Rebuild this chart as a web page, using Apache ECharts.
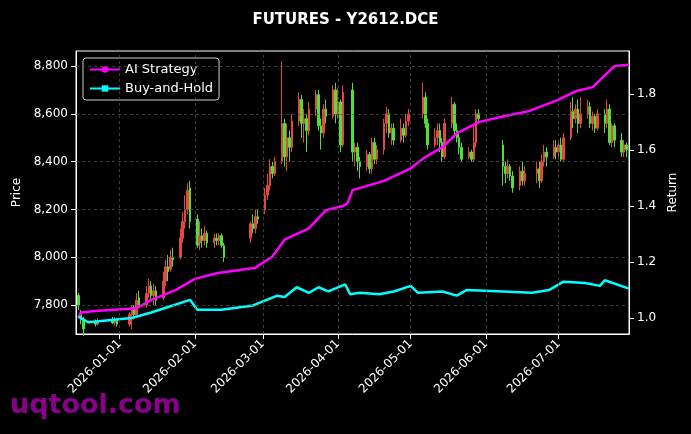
<!DOCTYPE html>
<html><head><meta charset="utf-8">
<script src="https://cdn.jsdelivr.net/npm/echarts@6/dist/echarts.min.js"></script>
<style>html,body{margin:0;background:#000}#c{width:691px;height:434px}</style>
</head><body><div id="c"></div>
<script>
// candles: [date, open, close, low, high]
const candles = [
['2025-12-15',7840,7800,7780,7850],['2025-12-16',7760,7740,7720,7780],['2025-12-17',7740,7700,7670,7750],
['2025-12-22',7730,7720,7710,7740],['2025-12-23',7720,7730,7715,7745],['2025-12-29',7740,7725,7720,7750],
['2025-12-30',7725,7735,7715,7750],['2025-12-31',7735,7720,7710,7745],
['2026-01-05',7720,7760,7710,7770],['2026-01-06',7760,7790,7700,7800],['2026-01-07',7790,7760,7740,7800],
['2026-01-08',7760,7820,7750,7850],['2026-01-09',7830,7800,7790,7860],['2026-01-12',7800,7850,7790,7880],
['2026-01-13',7850,7880,7830,7910],['2026-01-14',7880,7840,7820,7900],['2026-01-15',7840,7860,7800,7890],
['2026-01-16',7860,7820,7800,7880],['2026-01-19',7830,7900,7820,7940],['2026-01-20',7900,7960,7880,7990],
['2026-01-21',7960,7940,7900,8010],['2026-01-22',7950,8000,7940,8030],['2026-01-23',8000,7990,7960,8040],
['2026-01-26',8000,8080,7990,8120],['2026-01-27',8080,8150,8060,8190],['2026-01-28',8150,8200,8120,8260],
['2026-01-29',8200,8280,8180,8310],['2026-01-30',8290,8150,8120,8320],['2026-02-02',8160,8050,8040,8180],
['2026-02-03',8060,8090,8030,8150],['2026-02-04',8090,8070,8040,8120],['2026-02-05',8070,8100,8050,8130],
['2026-02-06',8100,8060,8040,8110],['2026-02-09',8060,8080,8040,8100],['2026-02-10',8080,8070,8050,8100],
['2026-02-11',8070,8090,8050,8100],['2026-02-12',8090,8050,8040,8100],['2026-02-13',8050,8000,7980,8060],
['2026-02-24',8080,8140,8060,8150],['2026-02-25',8140,8120,8100,8180],['2026-02-26',8120,8170,8100,8200],
['2026-02-27',8170,8160,8140,8200],['2026-03-02',8200,8260,8180,8290],['2026-03-03',8260,8300,8240,8350],
['2026-03-04',8300,8380,8280,8410],['2026-03-05',8380,8350,8330,8400],['2026-03-06',8350,8400,8340,8420],
['2026-03-09',8400,8560,8390,8820],['2026-03-10',8560,8420,8380,8580],['2026-03-11',8420,8500,8360,8560],
['2026-03-12',8500,8460,8400,8530],['2026-03-13',8460,8570,8440,8600],['2026-03-16',8570,8660,8550,8690],
['2026-03-17',8660,8560,8500,8680],['2026-03-18',8560,8580,8480,8620],['2026-03-19',8580,8530,8440,8600],
['2026-03-20',8530,8620,8510,8650],['2026-03-23',8620,8680,8590,8700],['2026-03-24',8680,8550,8530,8700],
['2026-03-25',8550,8520,8450,8580],['2026-03-26',8520,8620,8500,8640],['2026-03-27',8620,8590,8560,8660],
['2026-03-30',8590,8700,8580,8720],['2026-03-31',8700,8600,8560,8730],['2026-04-01',8600,8650,8580,8710],
['2026-04-02',8650,8470,8440,8660],['2026-04-03',8470,8690,8460,8720],['2026-04-07',8700,8440,8400,8730],
['2026-04-08',8440,8460,8380,8480],['2026-04-09',8460,8400,8360,8480],['2026-04-10',8400,8380,8330,8420],
['2026-04-13',8380,8430,8360,8450],['2026-04-14',8430,8370,8350,8440],['2026-04-15',8370,8480,8350,8500],
['2026-04-16',8480,8410,8390,8500],['2026-04-17',8410,8450,8390,8470],['2026-04-20',8450,8560,8430,8580],
['2026-04-21',8560,8600,8520,8630],['2026-04-22',8600,8520,8500,8620],['2026-04-23',8520,8540,8470,8560],
['2026-04-24',8540,8490,8470,8560],['2026-04-27',8490,8540,8480,8580],['2026-04-28',8540,8510,8480,8560],
['2026-04-29',8510,8570,8500,8600],['2026-04-30',8570,8600,8550,8620],['2026-05-06',8600,8670,8580,8730],
['2026-05-07',8670,8560,8540,8690],['2026-05-08',8560,8470,8450,8580],['2026-05-11',8470,8500,8460,8540],
['2026-05-12',8500,8530,8470,8560],['2026-05-13',8530,8480,8440,8560],['2026-05-14',8480,8420,8400,8500],
['2026-05-15',8420,8560,8410,8580],['2026-05-18',8560,8640,8540,8670],['2026-05-19',8640,8530,8500,8650],
['2026-05-20',8530,8500,8480,8560],['2026-05-21',8500,8460,8430,8520],['2026-05-22',8460,8410,8400,8480],
['2026-05-25',8420,8440,8410,8460],['2026-05-26',8440,8410,8400,8450],['2026-05-27',8410,8480,8400,8560],
['2026-05-28',8480,8600,8460,8620],['2026-05-29',8600,8580,8560,8620],['2026-06-08',8470,8380,8300,8490],
['2026-06-09',8380,8350,8310,8400],['2026-06-10',8350,8380,8330,8410],['2026-06-11',8380,8340,8320,8390],
['2026-06-12',8340,8290,8270,8360],['2026-06-15',8300,8360,8280,8380],['2026-06-16',8360,8320,8300,8400],
['2026-06-17',8320,8350,8300,8380],['2026-06-22',8350,8370,8310,8400],['2026-06-23',8370,8320,8290,8400],
['2026-06-24',8320,8400,8310,8430],['2026-06-25',8400,8440,8380,8470],['2026-06-26',8440,8420,8380,8460],
['2026-06-29',8420,8460,8410,8490],['2026-06-30',8460,8440,8410,8490],['2026-07-01',8440,8470,8420,8480],
['2026-07-02',8470,8410,8400,8500],['2026-07-03',8410,8500,8400,8520],['2026-07-06',8500,8610,8490,8650],
['2026-07-07',8610,8580,8540,8670],['2026-07-08',8580,8620,8560,8640],['2026-07-09',8620,8560,8520,8660],
['2026-07-10',8560,8600,8540,8670],['2026-07-13',8600,8630,8580,8660],['2026-07-14',8630,8560,8540,8650],
['2026-07-15',8560,8590,8530,8610],['2026-07-16',8590,8540,8520,8600],['2026-07-17',8540,8600,8530,8620],
['2026-07-20',8600,8560,8520,8620],['2026-07-21',8560,8620,8540,8660],['2026-07-22',8620,8480,8470,8640],
['2026-07-23',8480,8550,8460,8560],['2026-07-24',8550,8490,8460,8560],['2026-07-27',8490,8440,8420,8520],
['2026-07-28',8440,8470,8420,8490],['2026-07-29',8470,8450,8420,8480]
];
const aiStrategy = [
['2025-12-15',1.0],['2025-12-16',1.02],['2025-12-22',1.025],['2026-01-08',1.035],['2026-01-14',1.065],
['2026-01-24',1.10],['2026-02-01',1.14],['2026-02-10',1.16],['2026-02-26',1.18],['2026-03-05',1.22],
['2026-03-10',1.28],['2026-03-20',1.32],['2026-03-27',1.385],['2026-04-03',1.40],['2026-04-05',1.41],
['2026-04-07',1.457],['2026-04-20',1.49],['2026-05-01',1.535],['2026-05-07',1.575],['2026-05-14',1.61],
['2026-05-20',1.66],['2026-05-29',1.70],['2026-06-08',1.72],['2026-06-19',1.74],['2026-07-01',1.78],
['2026-07-08',1.81],['2026-07-15',1.825],['2026-07-24',1.90],['2026-07-30',1.905]
];
const buyHold = [
['2025-12-15',1.005],['2025-12-19',0.985],['2026-01-06',1.0],['2026-01-14',1.02],['2026-01-30',1.065],
['2026-02-02',1.03],['2026-02-12',1.03],['2026-02-25',1.045],['2026-03-07',1.08],['2026-03-10',1.075],
['2026-03-15',1.11],['2026-03-20',1.09],['2026-03-24',1.11],['2026-03-28',1.095],['2026-04-04',1.12],
['2026-04-06',1.085],['2026-04-10',1.09],['2026-04-18',1.085],['2026-04-24',1.095],['2026-05-01',1.115],
['2026-05-04',1.09],['2026-05-14',1.095],['2026-05-20',1.08],['2026-05-24',1.10],['2026-06-08',1.095],
['2026-06-20',1.09],['2026-06-27',1.10],['2026-07-03',1.13],['2026-07-12',1.125],['2026-07-18',1.115],
['2026-07-20',1.135],['2026-07-30',1.105]
];
const priceTicks = [7800,8000,8200,8400,8600,8800];
const returnTicks = [1.0,1.2,1.4,1.6,1.8];
const monthTicks = ['2026-01-01','2026-02-01','2026-03-01','2026-04-01','2026-05-01','2026-06-01','2026-07-01'];

const ts = d => Date.UTC(+d.slice(0,4), +d.slice(5,7)-1, +d.slice(8,10));
const fmt = v => { const d = new Date(v); const p = n => String(n).padStart(2,'0');
  return d.getUTCFullYear()+'-'+p(d.getUTCMonth()+1)+'-'+p(d.getUTCDate()); };
const chart = echarts.init(document.getElementById('c'));
const gridLine = {color:'#555',type:[3,3],width:0.7};
chart.setOption({
  backgroundColor:'#000',
  animation:false,
  title:{text:'FUTURES - Y2612.DCE',left:'center',top:8,textStyle:{color:'#fff',fontSize:15,fontWeight:'bold',fontFamily:'DejaVu Sans'}},
  legend:{left:83,top:58,orient:'vertical',itemGap:6,padding:[5,6],borderColor:'#ccc',borderWidth:1,borderRadius:3,backgroundColor:'#000',
    itemWidth:30,itemHeight:8,textStyle:{color:'#fff',fontSize:13,fontFamily:'DejaVu Sans'},data:['AI Strategy','Buy-and-Hold']},
  graphic:[{type:'text',left:10,top:392,z:100,style:{text:'uqtool.com',fill:'#8b008b',font:'bold 27px DejaVu Sans'}}],
  grid:{left:76,right:62,top:51,bottom:100,show:true,borderColor:'#fff',borderWidth:1},
  xAxis:{type:'value',min:ts('2025-12-14'),max:ts('2026-07-30'),
    axisLine:{lineStyle:{color:'#fff'}},splitLine:{show:false},
    axisTick:{customValues:monthTicks.map(ts),lineStyle:{color:'#fff'}},
    axisLabel:{customValues:monthTicks.map(ts),rotate:45,color:'#fff',fontSize:12,fontFamily:'DejaVu Sans',formatter:fmt}},
  yAxis:[
    {type:'value',min:7679,max:8863,name:'Price',nameLocation:'middle',nameGap:52,nameTextStyle:{color:'#fff',fontSize:12,fontFamily:'DejaVu Sans'},
      axisLine:{show:true,lineStyle:{color:'#fff'}},splitLine:{show:false},
      axisTick:{show:true,customValues:priceTicks},axisLabel:{customValues:priceTicks,color:'#fff',fontSize:12,fontFamily:'DejaVu Sans'}},
    {type:'value',min:0.943,max:1.954,position:'right',name:'Return',nameLocation:'middle',nameGap:38,nameTextStyle:{color:'#fff',fontSize:12,fontFamily:'DejaVu Sans'},
      axisLine:{show:true,lineStyle:{color:'#fff'}},splitLine:{show:false},
      axisTick:{show:true,customValues:returnTicks},axisLabel:{customValues:returnTicks,color:'#fff',fontSize:12,fontFamily:'DejaVu Sans',formatter:v=>v.toFixed(1)}}
  ],
  series:[
    {type:'candlestick',name:'Price',yAxisIndex:0,barMaxWidth:2,barMinWidth:1,
      data:candles.map(c=>[ts(c[0]),c[1],c[2],c[3],c[4]]),
      itemStyle:{color:'#e8473f',color0:'#4ee03a',borderColor:'#e8473f',borderColor0:'#4ee03a',borderWidth:1},
      markLine:{silent:true,symbol:'none',label:{show:false},lineStyle:gridLine,
        data:priceTicks.map(v=>({yAxis:v})).concat(monthTicks.map(d=>({xAxis:ts(d)})))}},
    {type:'line',name:'AI Strategy',yAxisIndex:1,data:aiStrategy.map(p=>[ts(p[0]),p[1]]),
      symbol:'circle',symbolSize:4,showSymbol:false,lineStyle:{color:'#ff00ff',width:2.5},itemStyle:{color:'#ff00ff'}},
    {type:'line',name:'Buy-and-Hold',yAxisIndex:1,data:buyHold.map(p=>[ts(p[0]),p[1]]),
      symbol:'rect',symbolSize:4,showSymbol:false,lineStyle:{color:'#00ffff',width:2.5},itemStyle:{color:'#00ffff'}}
  ]
});
</script></body></html>
